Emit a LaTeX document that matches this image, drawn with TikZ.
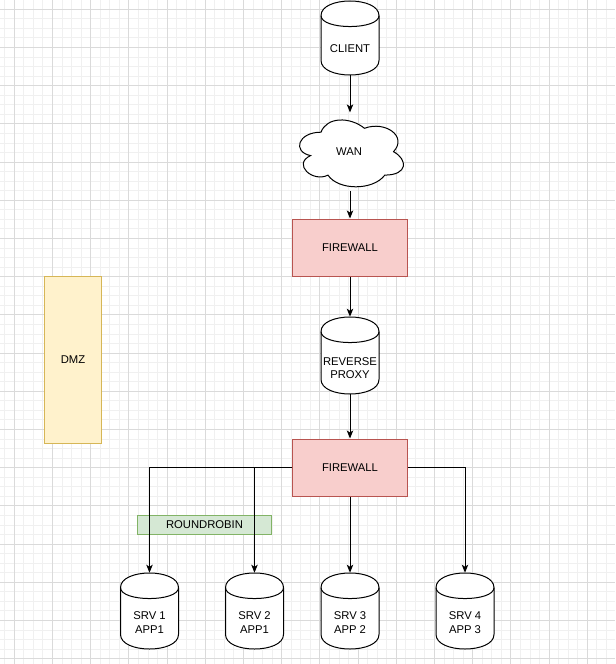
\documentclass[tikz,border=0pt]{standalone}
\usepackage{fontspec}
\setmainfont{Liberation Sans}
\usetikzlibrary{arrows.meta}
\definecolor{gridminor}{RGB}{240,240,240}
\definecolor{gridmajor}{RGB}{218,218,218}
\definecolor{fwfill}{RGB}{248,206,204}
\definecolor{fwdraw}{RGB}{184,84,80}
\definecolor{dmzfill}{RGB}{255,242,204}
\definecolor{dmzdraw}{RGB}{214,182,86}
\definecolor{rrfill}{RGB}{213,232,212}
\definecolor{rrdraw}{RGB}{130,179,102}
\newcommand\drawcyl[3]{%
  \draw[cylline] ({#1-29},{#2+14.6}) .. controls ({#1-29},{#2-4.87}) and ({#1+29},{#2-4.87}) .. ({#1+29},{#2+14.6})
    -- ({#1+29},{#3-14.6}) .. controls ({#1+29},{#3+4.87}) and ({#1-29},{#3+4.87}) .. ({#1-29},{#3-14.6}) -- cycle;
  \draw[cylline,fill=none] ({#1-29},{#2+14.6}) .. controls ({#1-29},{#2+29.2}) and ({#1+29},{#2+29.2}) .. ({#1+29},{#2+14.6});
}
\begin{document}
\begin{tikzpicture}[x=0.75pt,y=-0.75pt,
  font=\fontsize{8.45pt}{10.2pt}\selectfont,
  cylline/.style={draw=black,line width=0.75pt,fill=white},
  cylnode/.style={rectangle,draw=none,inner sep=0pt,minimum width=43.5pt,minimum height=#1},
  cloudnode/.style={rectangle,draw=none,inner sep=0pt,minimum width=87pt,minimum height=58.5pt},
  fwbox/.style={rectangle,fill=fwfill,draw=fwdraw,line width=0.75pt,inner sep=0pt,minimum width=85.9pt,minimum height=42.75pt},
  dmzbox/.style={rectangle,fill=dmzfill,draw=dmzdraw,line width=0.75pt,inner sep=0pt,minimum width=43.1pt,minimum height=125.25pt},
  rrbox/.style={rectangle,fill=rrfill,draw=rrdraw,line width=0.75pt,inner sep=0pt,minimum width=100.9pt,minimum height=14.6pt},
  txt/.style={align=center,inner sep=0pt},
  conn/.style={draw=black,line width=0.75pt,-{Stealth[length=6pt,width=4.8pt,inset=1.5pt]}}
]
\useasboundingbox (0,0) rectangle (615,664);
% grid
\begin{scope}
\clip (0,0) rectangle (615,664);
\foreach \k in {-1,...,62} {\draw[gridminor,line width=0.75pt] ({14.3+9.55*\k},0) -- ({14.3+9.55*\k},664);}
\foreach \k in {0,...,68} {\draw[gridminor,line width=0.75pt] (0,{9.3+9.55*\k}) -- (615,{9.3+9.55*\k});}
\foreach \k in {0,...,15} {\draw[gridmajor,line width=0.75pt] ({14.3+38.2*\k},0) -- ({14.3+38.2*\k},664);}
\foreach \k in {0,...,17} {\draw[gridmajor,line width=0.75pt] (0,{9.3+38.2*\k}) -- (615,{9.3+38.2*\k});}
\end{scope}
% cylinders and cloud shapes
\drawcyl{350}{1}{75}
\drawcyl{350}{317}{394}
\drawcyl{149.5}{573}{649}
\drawcyl{254.5}{573}{649}
\drawcyl{350}{573}{649}
\drawcyl{465}{573}{649}
\begin{scope}[shift={(219pt,-84.525pt)},x=87pt,y=-58.5pt]
\draw[cylline] (0.25,0.25) .. controls (0.05,0.25) and (0,0.5) .. (0.16,0.55)
  .. controls (0,0.66) and (0.18,0.9) .. (0.31,0.8)
  .. controls (0.4,1) and (0.7,1) .. (0.8,0.8)
  .. controls (1,0.8) and (1,0.6) .. (0.875,0.5)
  .. controls (1,0.3) and (0.8,0.1) .. (0.625,0.2)
  .. controls (0.5,0.05) and (0.3,0.05) .. (0.25,0.25) -- cycle;
\end{scope}
% nodes
\node[cylnode=55.5pt] (client) at (350,38) {};
\node[cloudnode] (wan) at (350,151.7) {};
\node[fwbox] (fw1) at (350,247.5) {FIREWALL};
\node[cylnode=57.75pt] (rp) at (350,355.5) {};
\node[fwbox] (fw2) at (350,467.5) {FIREWALL};
\node[rrbox] (rr) at (204.5,525) {ROUNDROBIN};
\node[dmzbox] (dmz) at (73,359.7) {DMZ};
\node[cylnode=57pt] (srv1) at (149.5,611) {};
\node[cylnode=57pt] (srv2) at (254.5,611) {};
\node[cylnode=57pt] (srv3) at (350,611) {};
\node[cylnode=57pt] (srv4) at (465,611) {};
% labels
\node[txt] (clientlbl) at (350,49) {CLIENT};
\node[txt] (wanlbl) at (349,152) {WAN};
\node[txt] (rplbl) at (350,368) {REVERSE\\PROXY};
\node[txt] (srv1lbl) at (149.5,622.5) {SRV 1\\APP1};
\node[txt] (srv2lbl) at (254.5,622.5) {SRV 2\\APP1};
\node[txt] (srv3lbl) at (350,622.5) {SRV 3\\APP 2};
\node[txt] (srv4lbl) at (465,622.5) {SRV 4\\APP 3};
% connectors
\draw[conn] (client.south) -- (wan.north);
\draw[conn] (wan.south) -- (fw1.north);
\draw[conn] (fw1.south) -- (rp.north);
\draw[conn] (rp.south) -- (fw2.north);
\draw[conn] (fw2.south) -- (srv3.north);
\draw[conn] (fw2.west) -| (srv1.north);
\draw[conn] (fw2.west) -| (srv2.north);
\draw[conn] (fw2.east) -| (srv4.north);
\end{tikzpicture}
\end{document}
